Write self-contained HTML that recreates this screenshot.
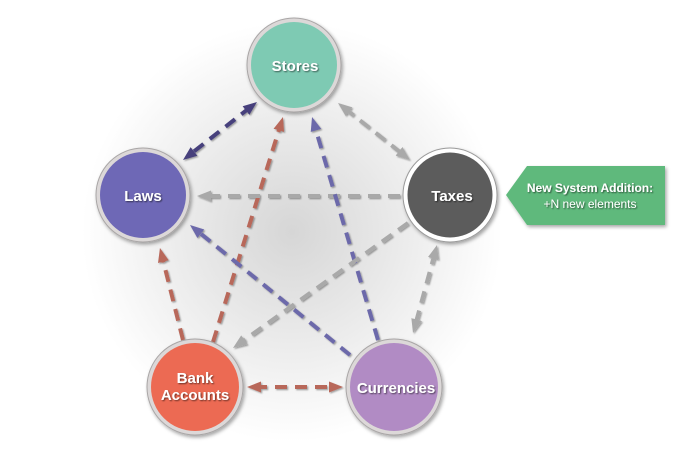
<!DOCTYPE html>
<html><head><meta charset="utf-8"><style>
html,body{margin:0;padding:0;background:#fff;}
svg{display:block;}
text{font-family:"Liberation Sans",sans-serif;}
</style></head><body>
<svg width="693" height="460" viewBox="0 0 693 460" xmlns="http://www.w3.org/2000/svg">
<defs>
<radialGradient id="bg" cx="292" cy="232" r="210" gradientUnits="userSpaceOnUse">
<stop offset="0" stop-color="#d6d6d6"/>
<stop offset="0.45" stop-color="#e8e8e8"/>
<stop offset="1" stop-color="#ffffff"/>
</radialGradient>
<filter id="ls" x="-20%" y="-20%" width="140%" height="140%">
<feDropShadow dx="1.2" dy="1.2" stdDeviation="0.8" flood-color="#000" flood-opacity="0.35"/>
</filter>
<filter id="cs" x="-20%" y="-20%" width="140%" height="140%">
<feDropShadow dx="1.5" dy="2" stdDeviation="1.8" flood-color="#000" flood-opacity="0.35"/>
</filter>
<filter id="ts" x="-20%" y="-50%" width="140%" height="200%">
<feDropShadow dx="1" dy="1" stdDeviation="0.7" flood-color="#000" flood-opacity="0.55"/>
</filter>
<marker id="mg" markerUnits="userSpaceOnUse" markerWidth="16" markerHeight="13" refX="6" refY="5.5" orient="auto-start-reverse"><path d="M0,0 L14,5.5 L0,11 z" fill="#a9a9a9"/></marker>
<marker id="mr" markerUnits="userSpaceOnUse" markerWidth="16" markerHeight="13" refX="6" refY="5.5" orient="auto-start-reverse"><path d="M0,0 L14,5.5 L0,11 z" fill="#b8675a"/></marker>
<marker id="mp" markerUnits="userSpaceOnUse" markerWidth="16" markerHeight="13" refX="6" refY="5.5" orient="auto-start-reverse"><path d="M0,0 L14,5.5 L0,11 z" fill="#6c69aa"/></marker>
<marker id="mn" markerUnits="userSpaceOnUse" markerWidth="16" markerHeight="13" refX="6" refY="5.5" orient="auto-start-reverse"><path d="M0,0 L14,5.5 L0,11 z" fill="#46417c"/></marker>
</defs>
<rect width="693" height="460" fill="#fff"/>
<circle cx="292" cy="232" r="210" fill="url(#bg)"/>

<g fill="none" stroke-width="4" stroke-dasharray="12 8" filter="url(#ls)">
<line x1="250.7" y1="106.9" x2="189.3" y2="155.1" stroke="#46417c" marker-start="url(#mn)" marker-end="url(#mn)"/>
<line x1="213" y1="342" x2="280.6" y2="124.6" stroke="#b8675a" marker-end="url(#mr)"/>
<line x1="400" y1="196" x2="205" y2="196" stroke="#a9a9a9" marker-end="url(#mg)"/>
<line x1="344.3" y1="108" x2="403.7" y2="155" stroke="#a9a9a9" marker-start="url(#mg)" marker-end="url(#mg)"/>
<line x1="378" y1="340" x2="314.3" y2="124.7" stroke="#6c69aa" marker-end="url(#mp)"/>
<line x1="408" y1="223" x2="239.5" y2="343.4" stroke="#a9a9a9" marker-end="url(#mg)"/>
<line x1="350" y1="355" x2="196.2" y2="230" stroke="#6c69aa" marker-end="url(#mp)"/>
<line x1="183" y1="340" x2="161.9" y2="255.8" stroke="#b8675a" marker-end="url(#mr)"/>
<line x1="434.9" y1="252.7" x2="415.1" y2="325.3" stroke="#a9a9a9" marker-start="url(#mg)" marker-end="url(#mg)"/>
<line x1="255" y1="387" x2="335" y2="387" stroke="#b8675a" marker-start="url(#mr)" marker-end="url(#mr)"/>
</g>

<g filter="url(#cs)">
<circle cx="294" cy="65" r="47" fill="#dcd8d8" stroke="#a9a6a6" stroke-width="1"/>
<circle cx="294" cy="65" r="43" fill="#7ecab3"/>
<circle cx="143" cy="195" r="47" fill="#dcd8d8" stroke="#a9a6a6" stroke-width="1"/>
<circle cx="143" cy="195" r="43" fill="#6e68b6"/>
<circle cx="450" cy="195" r="47" fill="#ffffff" stroke="#9a9a9a" stroke-width="1"/>
<circle cx="450" cy="195" r="42.5" fill="#5b5b5b"/>
<circle cx="195" cy="387" r="48" fill="#dcd8d8" stroke="#a9a6a6" stroke-width="1"/>
<circle cx="195" cy="387" r="44" fill="#ec6b52"/>
<circle cx="394" cy="387" r="48" fill="#dcd8d8" stroke="#a9a6a6" stroke-width="1"/>
<circle cx="394" cy="387" r="44" fill="#b18bc4"/>
</g>

<g fill="#fff" font-weight="bold" font-size="15" text-anchor="middle" filter="url(#ts)">
<text x="295" y="71">Stores</text>
<text x="143" y="201">Laws</text>
<text x="452" y="201">Taxes</text>
<text x="195" y="383">Bank</text>
<text x="195" y="400">Accounts</text>
<text x="396" y="393">Currencies</text>
</g>

<polygon points="506,195 527,166 665,166 665,225 527,225" fill="#5fb97c" filter="url(#cs)"/>
<g fill="#fff" text-anchor="middle" font-size="12" filter="url(#ts)">
<text x="590" y="192" font-weight="bold">New System Addition:</text>
<text x="590" y="208">+N new elements</text>
</g>
</svg>
</body></html>
